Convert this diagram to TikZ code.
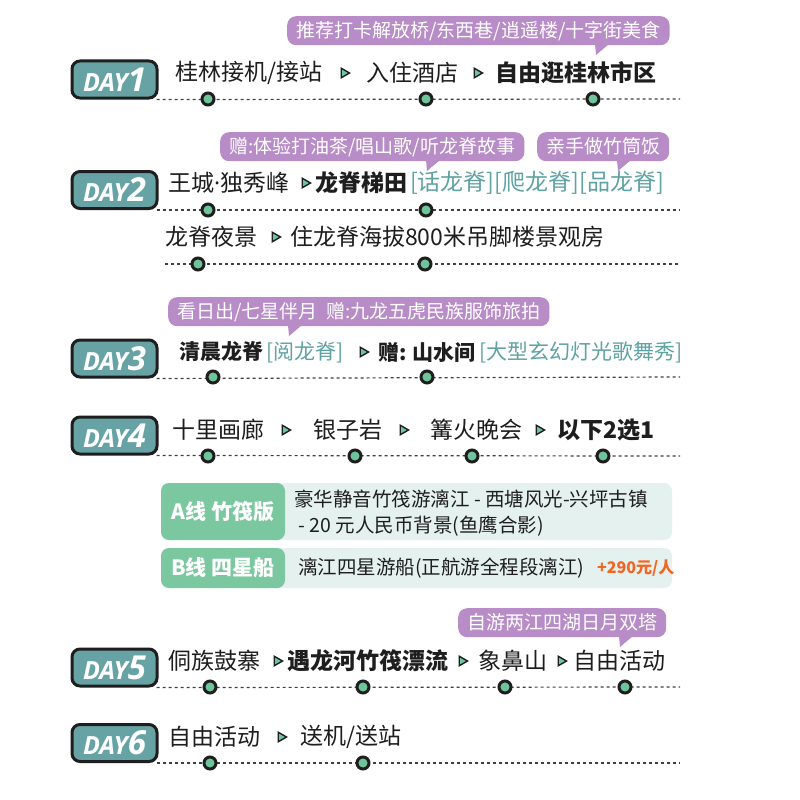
\documentclass[tikz,border=0pt]{standalone}
\usepackage{fontspec}
\setmainfont{Noto Sans CJK SC}
\newfontfamily\badgefont{Open Sans}
\usetikzlibrary{shapes.geometric}
\definecolor{badgefill}{HTML}{67A3A4}
\definecolor{inkdark}{HTML}{1E1E1E}
\definecolor{calloutfill}{HTML}{B88CC7}
\definecolor{tealtext}{HTML}{5FA2A2}
\definecolor{dotgreen}{HTML}{6FC59B}
\definecolor{trigreen}{HTML}{6CC6A0}
\definecolor{labelgreen}{HTML}{7BC8A0}
\definecolor{lightbox}{HTML}{E5F1EF}
\definecolor{pricered}{HTML}{F26522}
\tikzset{
  badge/.style={draw=inkdark, line width=3pt, fill=badgefill, rounded corners=8pt,
    minimum width=85pt, minimum height=37pt, inner sep=0pt, text=white,
    font=\badgefont\bfseries\itshape},
  maintext/.style={anchor=west, inner sep=0pt, text=inkdark, font=\fontsize{23}{27}\selectfont},
  boldtext/.style={maintext, font=\fontsize{23}{27}\selectfont\bfseries},
  tealbr/.style={maintext, text=tealtext},
  smallteal/.style={maintext, text=tealtext, font=\fontsize{21}{25}\selectfont},
  smallbold/.style={maintext, font=\fontsize{21}{25}\selectfont\bfseries},
  callout/.style={anchor=north west, fill=calloutfill, rounded corners=9pt, text=white,
    inner xsep=9pt, inner ysep=0pt, minimum height=29pt, font=\fontsize{19}{22}\selectfont},
  tail/.style={fill=calloutfill},
  tri/.style={regular polygon, regular polygon sides=3, shape border rotate=-90,
    draw=inkdark, fill=trigreen, line width=1.4pt, minimum size=11pt, inner sep=0pt},
  stopdot/.style={circle, draw=inkdark, fill=dotgreen, line width=3pt, minimum size=12pt, inner sep=0pt},
  route/.style={draw=inkdark!85, line width=1.2pt, dash pattern=on 3pt off 3pt},
  optlabel/.style={fill=labelgreen, rounded corners=8pt, text=white, inner sep=0pt,
    font=\fontsize{21}{25}\selectfont\bfseries},
  optbox/.style={fill=lightbox, rounded corners=8pt, inner sep=0pt},
  opttext/.style={anchor=west, inner sep=0pt, text=inkdark, font=\fontsize{19.5}{26}\selectfont, align=left}
}
\newcommand{\daylabel}[1]{{\fontsize{25}{25}\selectfont DAY}{\fontsize{33}{33}\selectfont #1}}
\newcommand{\narrowdot}{{\badgefont\char"00B7}}
\begin{document}
\begin{tikzpicture}[x=1pt,y=-1pt]
\useasboundingbox[fill=white] (0,0) rectangle (800,800);

% ---------------- DAY 1 ----------------
\node[callout] (c1) at (287,16) {推荐打卡解放桥/东西巷/逍遥楼/十字街美食};
\fill[tail] (595,44) -- (596,55) -- (609,44) -- cycle;
\node[badge] (d1) at (114.5,79.5) {\daylabel{1}};
\coordinate (e1) at (680,99);
\draw[route] (d1.south east) ++(-2,0) -- (e1);
\node[maintext] (t1a) at (175,73) {桂林接机/接站};
\node[tri] (g1a) at (344,73) {};
\node[maintext] (t1b) at (366,73) {入住酒店};
\node[tri] (g1b) at (477,73) {};
\node[boldtext] (t1c) at (495,73) {自由逛桂林市区};
\node[stopdot] (p1a) at (208,99) {};
\node[stopdot] (p1b) at (426,99) {};
\node[stopdot] (p1c) at (593,99) {};

% ---------------- DAY 2 ----------------
\node[callout] (c2a) at (220,132) {赠:体验打油茶/唱山歌/听龙脊故事};
\fill[tail] (426,160) -- (427,171) -- (440,160) -- cycle;
\node[callout] (c2b) at (537,132) {亲手做竹筒饭};
\fill[tail] (617,160) -- (618,171) -- (631,160) -- cycle;
\node[badge] (d2) at (114.5,190) {\daylabel{2}};
\coordinate (e2) at (680,210);
\draw[route] (d2.south east) ++(-2,0) -- (e2);
\node[maintext] (t2a) at (168,183) {王城\narrowdot 独秀峰};
\node[tri] (g2a) at (305,183) {};
\node[boldtext] (t2b) at (315,183) {龙脊梯田};
\node[tealbr] (t2c) at (410,183) {[话龙脊][爬龙脊][品龙脊]};
\node[stopdot] (p2a) at (208,210) {};
\node[stopdot] (p2b) at (426,210) {};
\coordinate (s2) at (165,264);
\coordinate (e2b) at (680,264);
\draw[route] (s2) -- (e2b);
\node[maintext] (t2d) at (165,237) {龙脊夜景};
\node[tri] (g2b) at (275,237) {};
\node[maintext] (t2e) at (290,237) {住龙脊海拔800米吊脚楼景观房};
\node[stopdot] (p2c) at (198,264) {};
\node[stopdot] (p2d) at (425,264) {};

% ---------------- DAY 3 ----------------
\node[callout] (c3) at (168,297) {看日出/七星伴月\ \ 赠:九龙五虎民族服饰旅拍};
\fill[tail] (288,325) -- (289,336) -- (302,325) -- cycle;
\node[badge] (d3) at (114.5,358.5) {\daylabel{3}};
\coordinate (e3) at (680,377);
\draw[route] (d3.south east) ++(-2,0) -- (e3);
\node[smallbold] (t3a) at (179,352) {清晨龙脊};
\node[smallteal] (t3b) at (266,352) {[阅龙脊]};
\node[tri] (g3a) at (363,352) {};
\node[smallbold] (t3c) at (378,352) {赠: 山水间};
\node[smallteal] (t3d) at (479,352) {[大型玄幻灯光歌舞秀]};
\node[stopdot] (p3a) at (213,377) {};
\node[stopdot] (p3b) at (427,377) {};

% ---------------- DAY 4 ----------------
\node[badge] (d4) at (114.5,435.5) {\daylabel{4}};
\coordinate (e4) at (680,456);
\draw[route] (d4.south east) ++(-2,0) -- (e4);
\node[maintext] (t4a) at (172,430) {十里画廊};
\node[tri] (g4a) at (285,430) {};
\node[maintext] (t4b) at (313,430) {银子岩};
\node[tri] (g4b) at (403,430) {};
\node[maintext] (t4c) at (430,430) {篝火晚会};
\node[tri] (g4c) at (539,430) {};
\node[boldtext] (t4d) at (557,430) {以下2选1};
\node[stopdot] (p4a) at (208,456) {};
\node[stopdot] (p4b) at (355,456) {};
\node[stopdot] (p4c) at (472,456) {};
\node[stopdot] (p4d) at (603,456) {};

% option A
\node[optbox, minimum width=511pt, minimum height=57pt] (boxa) at (416.5,511.5) {};
\node[optlabel, minimum width=124pt, minimum height=57pt] (laba) at (223,511.5) {A线 竹筏版};
\node[opttext] (txa) at (294,513) {豪华静音竹筏游漓江 - 西塘风光-兴坪古镇\\\ - 20 元人民币背景(鱼鹰合影)};
% option B
\node[optbox, minimum width=511pt, minimum height=40pt] (boxb) at (416.5,568) {};
\node[optlabel, minimum width=124pt, minimum height=40pt] (labb) at (223,568) {B线 四星船};
\node[opttext] (txb) at (298,568) {漓江四星游船(正航游全程段漓江)};
\node[anchor=west, inner sep=0pt, text=pricered, font=\fontsize{16}{20}\selectfont\bfseries] (price) at (597,568) {+290元/人};

% ---------------- DAY 5 ----------------
\node[callout] (c5) at (458,608) {自游两江四湖日月双塔};
\fill[tail] (619,636) -- (620,647) -- (633,636) -- cycle;
\node[badge] (d5) at (114.5,667.5) {\daylabel{5}};
\coordinate (e5) at (680,687);
\draw[route] (d5.south east) ++(-2,0) -- (e5);
\node[maintext] (t5a) at (168,661) {侗族鼓寨};
\node[tri] (g5a) at (277,661) {};
\node[boldtext] (t5b) at (287,661) {遇龙河竹筏漂流};
\node[tri] (g5b) at (462,661) {};
\node[maintext] (t5c) at (478,661) {象鼻山};
\node[tri] (g5c) at (561,661) {};
\node[maintext] (t5d) at (573,661) {自由活动};
\node[stopdot] (p5a) at (210,687) {};
\node[stopdot] (p5b) at (363,687) {};
\node[stopdot] (p5c) at (505,687) {};
\node[stopdot] (p5d) at (625,687) {};

% ---------------- DAY 6 ----------------
\node[badge] (d6) at (114.5,743) {\daylabel{6}};
\coordinate (e6) at (680,763);
\draw[route] (d6.south east) ++(-2,0) -- (e6);
\node[maintext] (t6a) at (168,737) {自由活动};
\node[tri] (g6a) at (281,737) {};
\node[maintext] (t6b) at (300,737) {送机/送站};
\node[stopdot] (p6a) at (210,763) {};
\node[stopdot] (p6b) at (363,763) {};
\end{tikzpicture}
\end{document}
